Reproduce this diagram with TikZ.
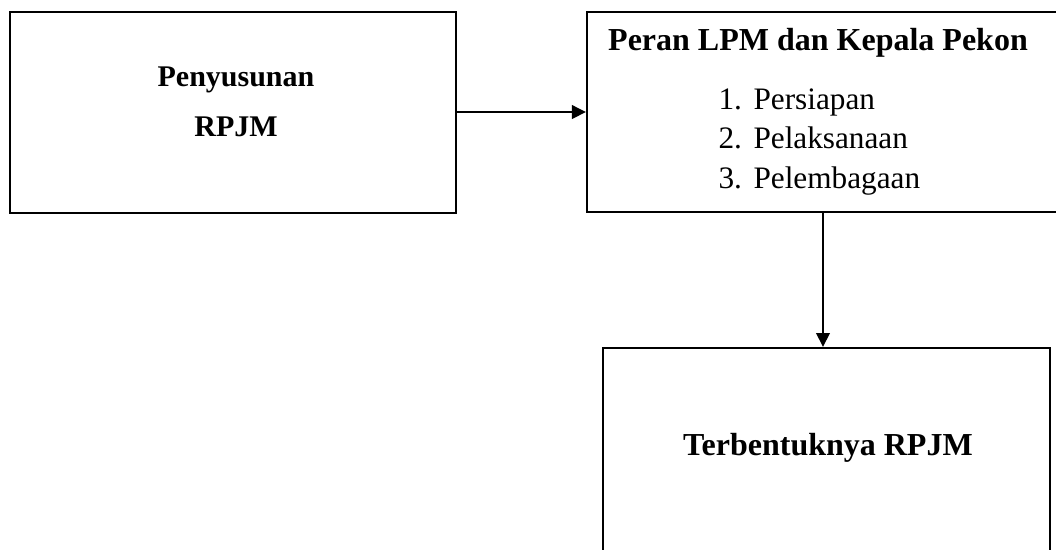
\documentclass[tikz,border=0pt]{standalone}
\usepackage{fontspec}
\setmainfont{Liberation Serif}
\usetikzlibrary{positioning, arrows.meta}

\begin{document}
\begin{tikzpicture}[x=0.4pt,y=-0.4pt]
    \tikzset{
        box/.style = {rectangle, draw=black, line width=0.8pt, inner sep=0pt},
        line/.style = {draw=black, line width=0.8pt, -{Triangle[length=5.6pt,width=5.4pt]}},
        title/.style = {font=\fontsize{12}{20}\selectfont\bfseries, align=center, inner sep=0pt},
        list/.style = {font=\fontsize{12.5}{15.8}\selectfont, align=left, inner sep=0pt},
    }
    \useasboundingbox (0,0) rectangle (1056,549);
    \clip (0,0) rectangle (1056,549);

    \node[box, minimum width=178.4pt, minimum height=80.4pt](penyusunan) at (233,112){};
    \node[box, minimum width=188.8pt, minimum height=80pt](peran) at (823,112){};
    \node[box, minimum width=178.8pt, minimum height=84.8pt](terbentuk) at (826.5,454){};

    \node[title](penyusunanTxt) at (236,102){Penyusunan\\RPJM};
    \node[title, font=\fontsize{12.8}{20}\selectfont\bfseries](peranTxt) at (818,43){Peran LPM dan Kepala Pekon};
    \node[list, anchor=west](tahap) at (718,142){\makebox[14pt][l]{1.}Persiapan\\
        \makebox[14pt][l]{2.}Pelaksanaan\\
        \makebox[14pt][l]{3.}Pelembagaan};
    \node[title, font=\fontsize{12.8}{20}\selectfont\bfseries](terbentukTxt) at (828,448){Terbentuknya RPJM};

    \path [line] (penyusunan) -- (peran);
    \path [line] (peran.south) -- (peran.south |- terbentuk.north);

\end{tikzpicture}
\end{document}
